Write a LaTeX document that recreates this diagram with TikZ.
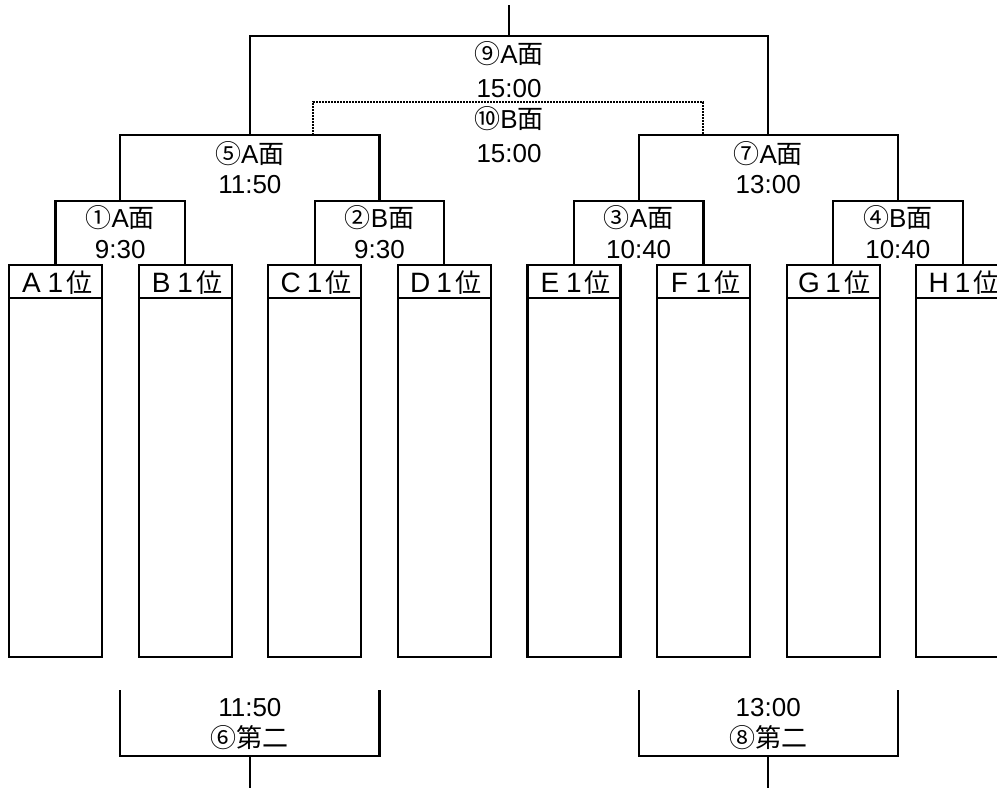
\documentclass[tikz,border=0pt]{standalone}
\usepackage{fontspec}
\setmainfont{Liberation Sans}
\newfontfamily\cjk{Noto Sans CJK JP}
\newcommand\hcell[1]{\makebox[24pt]{#1}}
\begin{document}
\begin{tikzpicture}[x=1pt,y=-1pt,
  ln/.style={line width=2.2pt,draw=black},
  dln/.style={line width=1.8pt,draw=black,dash pattern=on 1.6pt off 1.4pt},
  teambox/.style={rectangle,draw=black,line width=2.2pt,minimum width=93pt,minimum height=392pt,inner sep=0pt,outer sep=0pt,fill=white},
  head/.style={anchor=base,inner sep=0pt,font=\fontsize{28}{30}\selectfont},
  lab/.style={anchor=base,inner sep=0pt,font=\fontsize{26}{30}\selectfont}]
\useasboundingbox (0,0) rectangle (997,790);
\clip (0,0) rectangle (997,790);
% team boxes
\foreach \n [count=\i from 0] in {A,B,C,D,E,F,G,H}{
  \node[teambox] (box\n) at ({55.5+129.6*\i},461) {};
  \draw[ln] ([yshift=-33pt]box\n.north west) -- ([yshift=-33pt]box\n.north east);
  \node[head] (head\n) at ({55.5+129.6*\i},292) {\hcell{\n}\hcell{1}\hcell{\fontsize{26}{30}\selectfont\cjk 位}};
}
% bracket coordinates
\coordinate (m1) at (120.25,201);
\coordinate (m2) at (379.45,201);
\coordinate (m3) at (638.65,201);
\coordinate (m4) at (897.85,201);
\coordinate (m5) at (249.85,135);
\coordinate (m7) at (768.25,135);
\coordinate (m9) at (509.05,36);
\coordinate (top) at (509.05,5);
\coordinate (d1) at (313,135);
\coordinate (d2) at (703,135);
\coordinate (m10) at (509.05,102);
% round 1
\draw[ln] (boxA.north) |- (m1) -| (boxB.north);
\draw[ln] (boxC.north) |- (m2) -| (boxD.north);
\draw[ln] (boxE.north) |- (m3) -| (boxF.north);
\draw[ln] (boxG.north) |- (m4) -| (boxH.north);
% round 2
\draw[ln] (m1) |- (m5) -| (m2);
\draw[ln] (m3) |- (m7) -| (m4);
% final
\draw[ln] (m5) |- (m9) -| (m7);
\draw[ln] (m9) -- (top);
% third place (dotted)
\draw[dln] (d1) |- (m10) -| (d2);
% bottom brackets
\coordinate (b6l) at (120.25,690);
\coordinate (b6r) at (379.45,690);
\coordinate (b6) at (249.85,756);
\coordinate (b6s) at (249.85,788);
\coordinate (b8l) at (638.65,690);
\coordinate (b8r) at (897.85,690);
\coordinate (b8) at (768.25,756);
\coordinate (b8s) at (768.25,788);
\draw[ln] (b6l) |- (b6) -| (b6r);
\draw[ln] (b6) -- (b6s);
\draw[ln] (b8l) |- (b8) -| (b8r);
\draw[ln] (b8) -- (b8s);
% labels
\node[lab] (l9a) at (509.05,63) {{\cjk ⑨}A{\cjk 面}};
\node[lab] (l9b) at (509.05,97) {15:00};
\node[lab] (l10a) at (509.05,128) {{\cjk ⑩}B{\cjk 面}};
\node[lab] (l10b) at (509.05,162) {15:00};
\node[lab] (l5a) at (249.85,163) {{\cjk ⑤}A{\cjk 面}};
\node[lab] (l5b) at (249.85,193) {11:50};
\node[lab] (l7a) at (768.25,163) {{\cjk ⑦}A{\cjk 面}};
\node[lab] (l7b) at (768.25,193) {13:00};
\node[lab] (l1a) at (120.25,227) {{\cjk ①}A{\cjk 面}};
\node[lab] (l1b) at (120.25,258) {9:30};
\node[lab] (l2a) at (379.45,227) {{\cjk ②}B{\cjk 面}};
\node[lab] (l2b) at (379.45,258) {9:30};
\node[lab] (l3a) at (638.65,227) {{\cjk ③}A{\cjk 面}};
\node[lab] (l3b) at (638.65,258) {10:40};
\node[lab] (l4a) at (897.85,227) {{\cjk ④}B{\cjk 面}};
\node[lab] (l4b) at (897.85,258) {10:40};
\node[lab] (l6a) at (249.85,716) {11:50};
\node[lab] (l6b) at (249.85,747) {{\cjk ⑥第二}};
\node[lab] (l8a) at (768.25,716) {13:00};
\node[lab] (l8b) at (768.25,747) {{\cjk ⑧第二}};
\end{tikzpicture}
\end{document}
